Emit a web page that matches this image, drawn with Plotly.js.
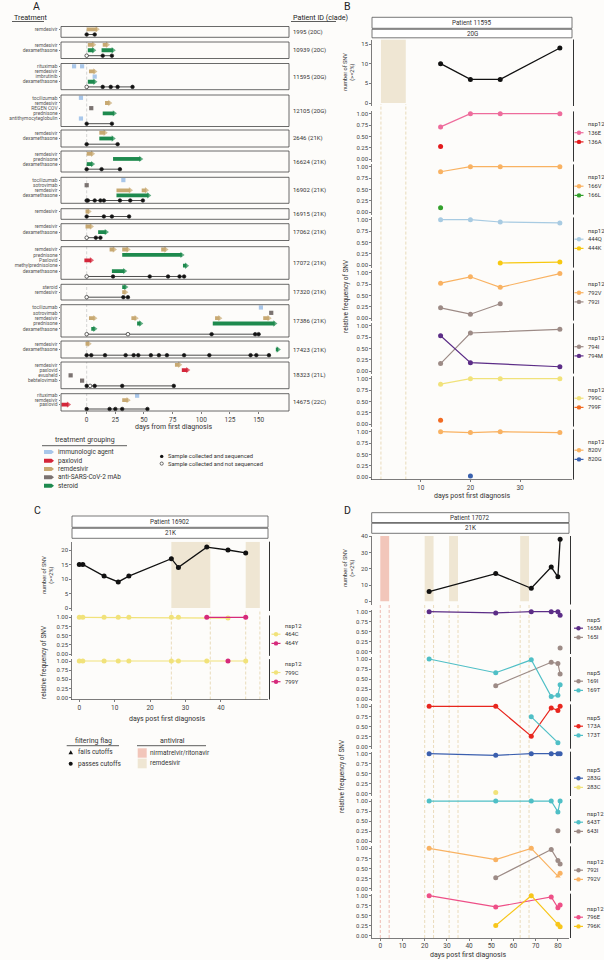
<!DOCTYPE html>
<html>
<head>
<meta charset="utf-8">
<script src="https://cdn.plot.ly/plotly-3.0.1.min.js"></script>
<style>
html,body{margin:0;padding:0;background:#fdfcfa;}
#chart{width:604px;height:960px;}
</style>
</head>
<body>
<div id="chart"></div>
<script>
// ======================= DATA =======================
// ---- Panel A: treatment timelines ----
const patientIds = ['1995','10939','11595','12105','2646','16624','16902','16915','17062','17072','17320','17386','17423','18323','14675'];
const patientClades = ['20C','20C','20G','20G','21K','21K','21K','21K','21K','21K','21K','21K','21K','21L','22C'];
const drugRows = [
  ['remdesivir'],
  ['remdesivir','dexamethasone'],
  ['rituximab','remdesivir','imbrutinib','dexamethasone'],
  ['tocilizumab','remdesivir','REGEN COV','prednisone','antithymocyteglobulin'],
  ['remdesivir','dexamethasone'],
  ['remdesivir','prednisone','dexamethasone'],
  ['tocilizumab','sotrovimab','remdesivir','dexamethasone'],
  ['remdesivir'],
  ['remdesivir','dexamethasone'],
  ['remdesivir','prednisone','Paxlovid','methylprednisolone','dexamethasone'],
  ['steroid','remdesivir'],
  ['tocilizumab','sotrovimab','remdesivir','prednisone','dexamethasone'],
  ['remdesivir','dexamethasone'],
  ['remdesivir','paxlovid','evusheld','bebtelovimab'],
  ['rituximab','remdesivir','paxlovid']
];
const txPatient = ['1995',
  '10939','10939','10939','10939',
  '11595','11595','11595','11595','11595',
  '12105','12105','12105','12105','12105',
  '2646','2646',
  '16624','16624','16624',
  '16902','16902','16902','16902','16902',
  '16915',
  '17062','17062',
  '17072','17072','17072','17072','17072','17072','17072',
  '17320','17320',
  '17386','17386','17386','17386','17386','17386','17386','17386','17386',
  '17423','17423',
  '18323','18323','18323','18323',
  '14675','14675','14675'];
const txDrug = ['remdesivir',
  'remdesivir','remdesivir','dexamethasone','dexamethasone',
  'rituximab','rituximab','remdesivir','imbrutinib','dexamethasone',
  'tocilizumab','remdesivir','REGEN COV','prednisone','antithymocyteglobulin',
  'remdesivir','dexamethasone',
  'remdesivir','prednisone','dexamethasone',
  'tocilizumab','sotrovimab','remdesivir','remdesivir','dexamethasone',
  'remdesivir',
  'remdesivir','dexamethasone',
  'remdesivir','remdesivir','remdesivir','prednisone','Paxlovid','methylprednisolone','dexamethasone',
  'steroid','remdesivir',
  'tocilizumab','sotrovimab','remdesivir','remdesivir','remdesivir','remdesivir','prednisone','prednisone','dexamethasone',
  'remdesivir','dexamethasone',
  'remdesivir','paxlovid','evusheld','bebtelovimab',
  'rituximab','remdesivir','paxlovid'];
const txStart = [0,
  1,14,1,13,
  -11,-4,2,7,1,
  -5,16,4,14,-5,
  11,11,
  0,23,0,
  32,0,26,48,26,
  -1,
  -1,10,
  20,31,65,31,-2,84,22,
  31,31,
  152,161,2,39,112,154,44,110,4,
  -1,165,
  77,83,-14,-4,
  44,31,-22];
const txEnd = [9,
  6,18,6,23,
  -11,-4,7,7,7,
  -5,20,4,24,-5,
  16,23,
  5,47,5,
  32,0,38,52,54,
  2,
  4,17,
  24,36,69,83,4,87,33,
  34,34,
  152,161,7,43,116,159,47,164,7,
  2,167,
  81,88,-14,-4,
  44,36,-16];
const smpPatient = ['1995','1995',
  '10939','10939','10939',
  '11595','11595','11595','11595','11595',
  '12105','12105',
  '2646','2646',
  '16624','16624','16624',
  '16902','16902','16902','16902','16902','16902','16902','16902',
  '16915','16915','16915','16915',
  '17062','17062','17062',
  '17072','17072','17072','17072','17072','17072',
  '17320','17320','17320',
  '17386','17386','17386','17386','17386',
  '17423','17423','17423','17423','17423','17423','17423','17423','17423','17423','17423','17423','17423','17423',
  '18323','18323','18323','18323','18323',
  '14675','14675','14675','14675','14675'];
const smpDay = [0,7,
  0,14,22,
  0,14,21,27,40,
  0,22,
  0,27,
  0,13,29,
  0,1,7,12,15,29,38,49,
  0,15,22,37,
  0,8,12,
  0,23,55,71,81,85,
  0,32,36,
  0,36,109,147,150,
  0,4,16,34,41,45,56,63,70,85,107,143,148,159,
  0,3,7,31,76,
  0,20,25,31,53];
const smpSeq = [1,1,
  0,1,1,
  0,1,1,1,1,
  1,1,
  1,1,
  1,1,1,
  1,1,1,1,1,1,1,1,
  1,1,1,1,
  0,1,1,
  0,1,1,1,1,1,
  0,1,1,
  0,0,1,1,1,
  1,1,1,1,1,1,1,1,1,1,1,1,1,1,
  1,0,1,1,1,
  1,1,1,1,1];
const aTicks = [0,25,50,75,100,125,150];
const groupNames = ['immunologic agent','paxlovid','remdesivir','anti-SARS-CoV-2 mAb','steroid'];
const groupColors = ['#a9c7ea','#d4263a','#c8a972','#7b7371','#1e8a4e'];
const drugGroup = {rituximab:0, tocilizumab:0, imbrutinib:0, antithymocyteglobulin:0,
  paxlovid:1, Paxlovid:1, remdesivir:2,
  'REGEN COV':3, sotrovimab:3, evusheld:3, bebtelovimab:3,
  dexamethasone:4, prednisone:4, methylprednisolone:4, steroid:4};

// ---- Panel B: patient 11595 ----
const bPatient = '11595', bClade = '20G';
const bDays = [14,20,26,38];
const bSnvCount = [10,6,6,14];
const bRemStart = [2], bRemEnd = [7];
const bGenes = ['nsp12','nsp12','nsp12','nsp12','nsp12','nsp12','nsp12'];
const bNames = [['136E','136A'],['166V','166L'],['444Q','444K'],['792V','792I'],['794I','794M'],['799C','799F'],['820V','820G']];
const bColors = [['#ee6c9c','#e31a1c'],['#f9b262','#33a02c'],['#a8cbe2','#f7c810'],['#f9b262','#9d8b86'],['#9d8b86','#5c2d87'],['#f1e27a','#f26b22'],['#f9b262','#3b62ae']];
const b136E = [0.71,1.00,1.00,1.00], b136A = [0.28,null,null,null];
const b166V = [0.89,1.00,1.00,1.00], b166L = [0.10,null,null,null];
const b444Q = [1.00,1.00,0.95,0.93], b444K = [null,null,0.05,0.07];
const b792V = [0.77,0.91,0.68,0.98], b792I = [0.23,0.09,0.32,null];
const b794I = [0.17,0.84,null,0.92], b794M = [0.78,0.19,null,0.10];
const b799C = [0.88,1.00,1.00,1.00], b799F = [0.09,null,null,null];
const b820V = [1.00,0.98,1.00,0.98], b820G = [null,0.03,null,null];

// ---- Panel C: patient 16902 ----
const cPatient = '16902', cClade = '21K';
const cDays = [0,1,7,11,14,26,28,36,42,47];
const cSnvCount = [15,15,11,9,11,17,14,21,20,19];
const cRemStart = [26,47], cRemEnd = [37,51];
const cGenes = ['nsp12','nsp12'];
const cNames = [['464C','464Y'],['799C','799Y']];
const cColors = [['#f1e27a','#d62a7b'],['#f1e27a','#d62a7b']];
const c464C = [1,1,1,1,1,1,1,null,0.98,null], c464Y = [null,null,null,null,null,null,null,1,null,1];
const c799C = [1,1,1,1,1,1,1,1,null,1], c799Y = [null,null,null,null,null,null,null,null,1,null];

// ---- Panel D: patient 17072 ----
const dPatient = '17072', dClade = '21K';
const dDays = [22,52,68,77,80,81];
const dSnvCount = [6,17,8,21,15,38];
const dNirStart = [0], dNirEnd = [4];
const dRemStart = [20,31,63], dRemEnd = [24,35,67];
const dGenes = ['nsp5','nsp5','nsp5','nsp5','nsp12','nsp12','nsp12'];
const dNames = [['165M','165I'],['169I','169T'],['173A','173T'],['283G','283C'],['643T','643I'],['792I','792V'],['796E','796K']];
const dColors = [['#5c2d87','#9d8b86'],['#9d8b86','#4fbfc6'],['#e8261e','#4fbfc6'],['#3b5fae','#f1e27a'],['#4fbfc6','#9d8b86'],['#9d8b86','#f9b262'],['#ee4f87','#f7c61b']];
const d165M = [1.00,0.97,1.00,1.00,1.00,0.91], d165I = [null,null,null,null,null,0.10];
const d169I = [null,0.34,null,0.92,0.89,0.63], d169T = [1.00,0.66,0.98,0.07,0.10,0.36];
const d173A = [1.00,1.00,0.26,0.96,0.90,1.00], d173T = [null,null,0.74,null,0.10,null];
const d283G = [1.00,0.96,1.00,1.00,1.00,1.00], d283C = [null,0.04,null,null,null,null];
const d643T = [1.00,1.00,1.00,1.00,0.73,1.00], d643I = [null,null,null,null,0.26,null];
const d792I = [null,0.27,null,0.97,0.70,0.61], d792V = [1.00,0.72,1.00,null,0.31,0.38];
const d796E = [1.00,0.72,null,0.97,0.70,0.77], d796K = [null,0.26,1.00,null,0.29,0.23];
const d792VFlag = [1,1,1,1,0,1]; // 0 = fails cutoffs

// ======================= BUILD =======================
const W = 604, H = 960;
const px = x => x / W;
const py = y => 1 - y / H;
const FONT = 'Roboto, "Noto Sans", "DejaVu Sans", sans-serif';
const data = [];
const shapes = [];
const anns = [];
const layout = {
  width: W, height: H, autosize: false,
  margin: {l:0, r:0, t:0, b:0, pad:0},
  paper_bgcolor: '#fdfcfa', plot_bgcolor: 'rgba(0,0,0,0)',
  showlegend: false, hovermode: false,
  font: {family: FONT, size: 6.5, color: '#333'},
  shapes: shapes, annotations: anns
};
const tickStyle = {showgrid:false, zeroline:false, fixedrange:true, ticks:'outside', ticklen:2, tickwidth:0.7,
  tickcolor:'#444', tickfont:{family:FONT, size:6, color:'#444'}, showline:true, linecolor:'#444', linewidth:0.7};

function yKey(id){ return 'yaxis' + (id === 1 ? '' : id); }
function yRef(id){ return id === 1 ? 'y' : 'y' + id; }
function addAxisY(id, top, bottom, xa, range, opts){
  layout[yKey(id)] = Object.assign({}, tickStyle, {domain:[py(bottom), py(top)], anchor:xa, range:range}, opts || {});
}
function text(t, x, y, opts){
  anns.push(Object.assign({text:t, xref:'paper', yref:'paper', x:px(x), y:py(y), showarrow:false,
    xanchor:'center', yanchor:'middle', font:{family:FONT, size:6.5, color:'#333'}}, opts || {}));
}
function hline(x0, x1, y, color, w){
  shapes.push({type:'line', xref:'paper', yref:'paper', x0:px(x0), x1:px(x1), y0:py(y), y1:py(y), line:{color:color, width:w}});
}

// ---------- Panel A ----------
text('A', 36.5, 6.5, {font:{family:FONT, size:10.5, color:'#222'}});
text('Treatment', 12, 17.5, {xanchor:'left', font:{family:FONT, size:7.2, color:'#222'}});
hline(12, 44, 21.5, '#333', 0.8);
text('Patient ID (clade)', 291, 17.5, {xanchor:'left', font:{family:FONT, size:7.2, color:'#222'}});
hline(291, 336, 21.5, '#333', 0.8);

const aBoxTop = [26.5,42,63.5,95,130,151,177.3,208.7,223.7,246.7,284.3,304.7,341,362,393.7];
const aBoxBot = [37.3,58.5,89.7,126.5,147,172,203.3,219.3,240.5,279.3,300,337,358,388.7,411];
const aPad    = [2.8,2.8,2.8,2.8,2.8,2.8,2.8,2.8,2.8,2.8,2.8,2.8,2.8,2.8,2.0];
layout.xaxis = Object.assign({}, tickStyle, {domain:[px(61), px(289)], anchor:'y15', range:[-22.4,176.5],
  tickvals:aTicks, showline:false, tickfont:{family:FONT, size:6.5, color:'#444'}});

patientIds.forEach((pid, i) => {
  const id = i + 1, yr = yRef(id);
  const T = aBoxTop[i], B = aBoxBot[i], n = drugRows[i].length;
  const pad = aPad[i], step = (B - T - 2*pad) / n;
  addAxisY(id, T, B, 'x', [(B - T - pad)/step, -pad/step], {
    tickvals: drugRows[i].map((d,k) => k), ticktext: drugRows[i], showline:false,
    ticklen:1.5, tickfont:{family:FONT, size:4.9, color:'#555'}});
  shapes.push({type:'line', xref:'x', yref:yr+' domain', x0:0, x1:0, y0:0, y1:1, layer:'below',
    line:{color:'#cccccc', width:0.8, dash:'3px,2px'}});
  shapes.push({type:'rect', xref:'x domain', yref:yr+' domain', x0:0, x1:1, y0:0, y1:1,
    line:{color:'#444', width:0.8}, fillcolor:'rgba(0,0,0,0)'});
  anns.push({text: pid + ' (' + patientClades[i] + ')', xref:'paper', yref:yr+' domain', x:px(291), y:0.5,
    xanchor:'left', yanchor:'middle', showarrow:false, font:{family:FONT, size:6, color:'#333'}});
  // samples
  const days = [], seq = [];
  smpPatient.forEach((p, k) => { if (p === pid) { days.push(smpDay[k]); seq.push(smpSeq[k]); } });
  data.push({type:'scatter', mode:'lines+markers', x:days, y:days.map(() => n), xaxis:'x', yaxis:yr,
    line:{color:'#222', width:0.8}, cliponaxis:false,
    marker:{size:3.6, color:seq.map(s => s ? '#111' : '#fdfcfa'), line:{color:'#222', width:0.7}}, hoverinfo:'skip'});
});
// treatments
txPatient.forEach((pid, k) => {
  const i = patientIds.indexOf(pid);
  const row = drugRows[i].indexOf(txDrug[k]);
  const col = groupColors[drugGroup[txDrug[k]]];
  const yr = yRef(i + 1);
  if (txStart[k] === txEnd[k]) {
    data.push({type:'scatter', mode:'markers', x:[txStart[k]], y:[row], xaxis:'x', yaxis:yr, cliponaxis:false,
      marker:{symbol:'square', size:4.2, color:col}, hoverinfo:'skip'});
  } else {
    data.push({type:'scatter', mode:'lines+markers', x:[txStart[k], txEnd[k]], y:[row, row], xaxis:'x', yaxis:yr, cliponaxis:false,
      line:{color:col, width:3.8}, marker:{symbol:'triangle-right', size:[0, 5.5], color:col, line:{width:0}}, hoverinfo:'skip'});
  }
});
text('days from first diagnosis', 174, 426.5, {font:{family:FONT, size:7, color:'#333'}});
// A legends
text('treatment grouping', 85, 440, {font:{family:FONT, size:7, color:'#333'}});
hline(42, 127, 445.7, '#333', 0.8);
const aLegY = [452, 460.7, 469, 477.3, 485.7];
groupNames.forEach((g, k) => {
  const y = aLegY[k];
  shapes.push({type:'path', xref:'paper', yref:'paper', line:{width:0}, fillcolor:groupColors[k],
    path:'M'+px(44)+','+py(y-2)+' L'+px(51.5)+','+py(y-2)+' L'+px(54)+','+py(y)+' L'+px(51.5)+','+py(y+2)+' L'+px(44)+','+py(y+2)+' Z'});
  text(g, 55.5, y, {xanchor:'left', font:{family:FONT, size:6.5, color:'#333'}});
});
function circ(cx, cy, r, fill, lineCol){
  shapes.push({type:'circle', xref:'paper', yref:'paper', x0:px(cx-r), x1:px(cx+r), y0:py(cy+r), y1:py(cy-r),
    fillcolor:fill, line:{color:lineCol || fill, width:lineCol ? 0.7 : 0}});
}
circ(161.7, 456.4, 1.7, '#111');
text('Sample collected and sequenced', 165.5, 456.4, {xanchor:'left', font:{family:FONT, size:5.8, color:'#333'}});
circ(161.7, 463.6, 1.6, '#fdfcfa', '#333');
text('Sample collected and not sequenced', 165.5, 463.6, {xanchor:'left', font:{family:FONT, size:5.8, color:'#333'}});

// ---------- Facet panels B, C, D ----------
function legendBlock(title, titleY, names, colors, symX, textX){
  text(title, textX, titleY, {xanchor:'left', font:{family:FONT, size:6, color:'#333'}});
  names.forEach((nm, k) => {
    const yy = titleY + 9.2*(k+1);
    shapes.push({type:'line', xref:'paper', yref:'paper', x0:px(symX), x1:px(symX+9), y0:py(yy), y1:py(yy),
      line:{color:colors[k], width:1.2}});
    circ(symX+4.5, yy, 2.2, colors[k]);
    text(nm, textX, yy, {xanchor:'left', font:{family:FONT, size:5.8, color:'#333'}});
  });
}

function facetPanel(P){
  const xRef = 'x' + P.xn;
  const lowIds = P.lowOne.map((o, i) => P.topId + 1 + i);
  layout['xaxis' + P.xn] = Object.assign({}, tickStyle, {domain:[px(P.left), px(P.right)],
    anchor:yRef(lowIds[lowIds.length-1]), range:P.xRange, tickvals:P.xTicks,
    tickfont:{family:FONT, size:6.5, color:'#444'}});
  addAxisY(P.topId, P.topTop, P.topBot, xRef, P.topRange, {tickvals:P.topTicks});
  const pad = 0.05 * P.lowSpan;
  P.lowOne.forEach((one, i) => {
    addAxisY(lowIds[i], one - pad, one + P.lowSpan + pad, xRef, [-0.05, 1.05],
      {tickvals:[0,0.25,0.5,0.75,1], ticktext:['0.00','0.25','0.50','0.75','1.00']});
  });
  const lowBottom = P.lowOne[P.lowOne.length-1] + P.lowSpan + pad;
  P.rects.forEach(r => {
    r.start.forEach((s, k) => {
      shapes.push({type:'rect', xref:xRef, yref:yRef(P.topId), x0:s, x1:r.end[k], y0:0, y1:P.topRange[1],
        fillcolor:r.fill, line:{width:0}, layer:'below'});
      [s, r.end[k]].forEach(xv => shapes.push({type:'line', xref:xRef, yref:'paper', x0:xv, x1:xv,
        y0:py(lowBottom), y1:py(P.dashTop), layer:'below', line:{color:r.dash, width:0.8, dash:'3px,2px'}}));
    });
  });
  data.push({type:'scatter', mode:'lines+markers', x:P.days, y:P.counts, xaxis:xRef, yaxis:yRef(P.topId),
    line:{color:'#111', width:1.3}, marker:{color:'#111', size:5}, hoverinfo:'skip'});
  P.series.forEach((pair, i) => {
    pair.forEach((vals, j) => {
      data.push({type:'scatter', mode:'lines+markers', x:P.days, y:vals, xaxis:xRef, yaxis:yRef(lowIds[i]),
        connectgaps:true, line:{color:P.colors[i][j], width:1.2}, cliponaxis:false,
        marker:{color:P.colors[i][j], size:5, symbol:(P.symbols && P.symbols[i] && P.symbols[i][j]) || 'circle'},
        hoverinfo:'skip'});
    });
    legendBlock(P.genes[i], P.legY[i], P.names[i], P.colors[i], P.legSymX, P.legTextX);
  });
  [P.topId].concat(lowIds).forEach(id => shapes.push({type:'line', xref:'paper', yref:yRef(id)+' domain',
    x0:px(P.rightX), x1:px(P.rightX), y0:0.0, y1:1.0, line:{color:'#333', width:1}}));
  // strips
  [[P.strip[0], P.strip[1], 'Patient ' + P.patient], [P.strip[2], P.strip[3], P.clade]].forEach(s => {
    shapes.push({type:'rect', xref:'paper', yref:'paper', x0:px(P.left), x1:px(P.right), y0:py(s[1]), y1:py(s[0]),
      fillcolor:'#ffffff', line:{color:'#555', width:0.8}});
    text(s[2], (P.left + P.right)/2, (s[0] + s[1])/2, {font:{family:FONT, size:6.3, color:'#333'}});
  });
  text(P.letter, P.letterX, P.letterY, {font:{family:FONT, size:10.5, color:'#222'}});
  text('days post first diagnosis', P.xTitle[0], P.xTitle[1], {font:{family:FONT, size:7, color:'#333'}});
  text('number of SNV<br>(&gt;=2%)', P.yTitleTop[0], P.yTitleTop[1], {textangle:-90, font:{family:FONT, size:5.6, color:'#333'}});
  text('relative frequency of SNV', P.yTitleLow[0], P.yTitleLow[1], {textangle:-90, font:{family:FONT, size:6.5, color:'#333'}});
}

facetPanel({
  letter:'B', letterX:348, letterY:6.3,
  xn:2, topId:16, left:372, right:572, xRange:[0.2,40.44], xTicks:[10,20,30],
  topTop:39.5, topBot:106, topRange:[-0.76,16.15], topTicks:[0,5,10,15],
  lowOne:[0,1,2,3,4,5,6].map(i => 113.7 + 53*i), lowSpan:45.6, dashTop:104,
  days:bDays, counts:bSnvCount,
  rects:[{start:bRemStart, end:bRemEnd, fill:'#efe6d3', dash:'#e4d3ab'}],
  series:[[b136E,b136A],[b166V,b166L],[b444Q,b444K],[b792V,b792I],[b794I,b794M],[b799C,b799F],[b820V,b820G]],
  names:bNames, colors:bColors, genes:bGenes,
  legY:[123.5,177,230,283.5,337.5,389,441], legSymX:574.5, legTextX:585.5, rightX:573.5,
  strip:[17.3,28.3,29.3,37.8], patient:bPatient, clade:bClade,
  xTitle:[472,495.5], yTitleTop:[349,72], yTitleLow:[346,296]
});
facetPanel({
  letter:'C', letterX:37.5, letterY:510.5,
  xn:3, topId:24, left:72, right:268, xRange:[-2.06,53.3], xTicks:[0,10,20,30,40],
  topTop:541.7, topBot:611, topRange:[-1.03,22.86], topTicks:[0,5,10,15,20],
  lowOne:[617.3,661], lowSpan:36.7, dashTop:611,
  days:cDays, counts:cSnvCount,
  rects:[{start:cRemStart, end:cRemEnd, fill:'#efe6d3', dash:'#e4d3ab'}],
  series:[[c464C,c464Y],[c799C,c799Y]],
  names:cNames, colors:cColors, genes:cGenes,
  legY:[625,663.3], legSymX:271.5, legTextX:282.7, rightX:269.5,
  strip:[516,527.3,528.3,538.3], patient:cPatient, clade:cClade,
  xTitle:[167,718.5], yTitleTop:[48,575], yTitleLow:[44,662]
});
facetPanel({
  letter:'D', letterX:348, letterY:510.3,
  xn:4, topId:27, left:371.7, right:569, xRange:[-3.87,85.0], xTicks:[0,10,20,30,40,50,60,70,80],
  topTop:536, topBot:604.5, topRange:[-1.96,40.06], topTicks:[0,10,20,30,40],
  lowOne:[0,1,2,3,4,5,6].map(i => 611.7 + 47.33*i), lowSpan:40.3, dashTop:605,
  days:dDays, counts:dSnvCount,
  rects:[{start:dNirStart, end:dNirEnd, fill:'#f2c6ba', dash:'#eba99e'},
         {start:dRemStart, end:dRemEnd, fill:'#efe6d3', dash:'#e4d3ab'}],
  series:[[d165M,d165I],[d169I,d169T],[d173A,d173T],[d283G,d283C],[d643T,d643I],[d792I,d792V],[d796E,d796K]],
  symbols:[null,null,null,null,null,[null, d792VFlag.map(f => f ? 'circle' : 'triangle-up')],null],
  names:dNames, colors:dColors, genes:dGenes,
  legY:[619,672,717,769,813,861,908], legSymX:574, legTextX:585, rightX:570.5,
  strip:[512.7,522.5,523.3,533.3], patient:dPatient, clade:dClade,
  xTitle:[468,954.5], yTitleTop:[349,568], yTitleLow:[342,776]
});

// C bottom legends
text('filtering flag', 93, 741, {font:{family:FONT, size:7, color:'#333'}});
hline(66.7, 119, 745.7, '#333', 0.8);
shapes.push({type:'path', xref:'paper', yref:'paper', fillcolor:'#111', line:{width:0},
  path:'M'+px(68.5)+','+py(754.3)+' L'+px(73)+','+py(754.3)+' L'+px(70.75)+','+py(750.2)+' Z'});
text('fails cutoffs', 76, 752.3, {xanchor:'left', font:{family:FONT, size:6.5, color:'#333'}});
circ(70.7, 763.7, 2, '#111');
text('passes cutoffs', 76, 763.7, {xanchor:'left', font:{family:FONT, size:6.5, color:'#333'}});
text('antiviral', 172, 741, {font:{family:FONT, size:7, color:'#333'}});
hline(137, 206, 745.7, '#333', 0.8);
shapes.push({type:'rect', xref:'paper', yref:'paper', x0:px(137.7), x1:px(146.7), y0:py(757.7), y1:py(748.3), fillcolor:'#f2c6ba', line:{width:0}});
text('nirmatrelvir/ritonavir', 148, 753, {xanchor:'left', font:{family:FONT, size:6.5, color:'#333'}});
shapes.push({type:'rect', xref:'paper', yref:'paper', x0:px(137.7), x1:px(146.7), y0:py(768.3), y1:py(758.6), fillcolor:'#efe6d3', line:{width:0}});
text('remdesivir', 148, 763.3, {xanchor:'left', font:{family:FONT, size:6.5, color:'#333'}});

Plotly.newPlot('chart', data, layout, {staticPlot:true, displayModeBar:false});
</script>
</body>
</html>
